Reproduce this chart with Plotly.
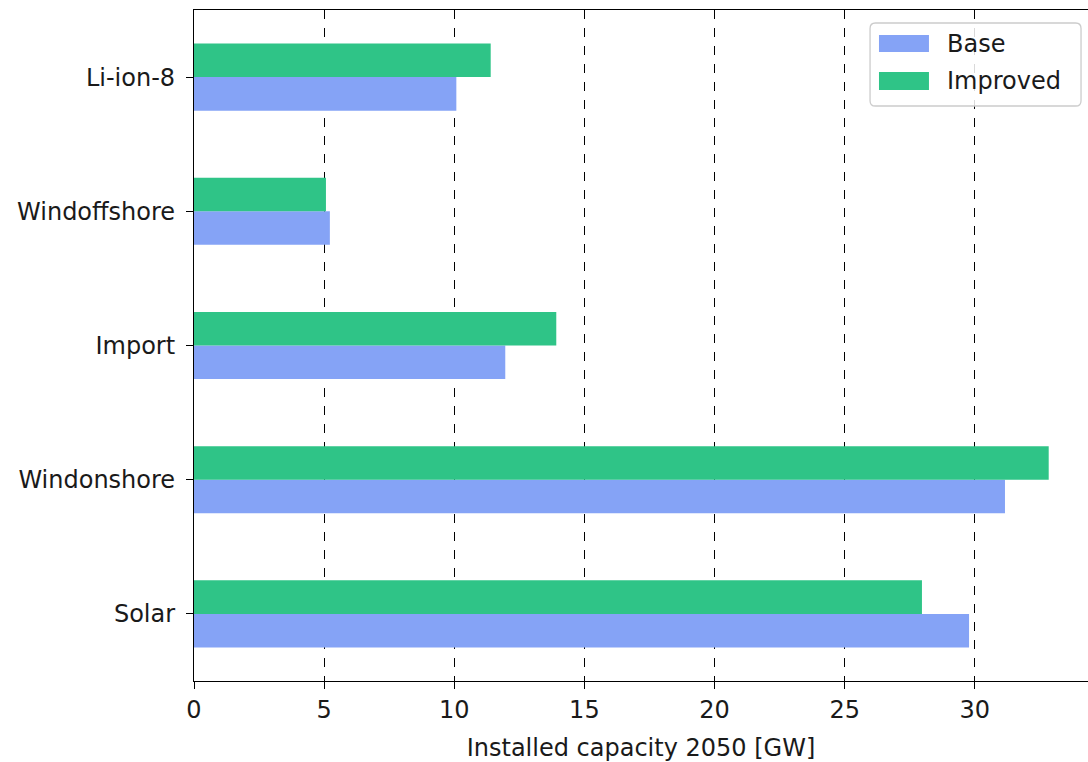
import plotly.graph_objects as go

# Installed capacity in 2050 per technology [GW]
technologies = ["Solar", "Windonshore", "Import", "Windoffshore", "Li-ion-8"]
base_gw = [29.78, 31.16, 11.96, 5.22, 10.08]
improved_gw = [27.97, 32.84, 13.92, 5.07, 11.40]

x_ticks = [0, 5, 10, 15, 20, 25, 30]

BASE_COLOR = "#85A3F6"
IMPROVED_COLOR = "#2FC487"
FONT = "DejaVu Sans"
FONT_SIZE = 24
TEXT_COLOR = "#1a1a1a"

fig = go.Figure()

fig.add_trace(go.Bar(
    y=technologies, x=base_gw, orientation="h", name="Base",
    marker=dict(color=BASE_COLOR, line=dict(width=0)),
    width=0.25, offset=-0.25, showlegend=False,
))
fig.add_trace(go.Bar(
    y=technologies, x=improved_gw, orientation="h", name="Improved",
    marker=dict(color=IMPROVED_COLOR, line=dict(width=0)),
    width=0.25, offset=0.0, showlegend=False,
))

fig.update_layout(
    width=1088, height=762,
    margin=dict(l=194, r=0, t=10, b=81),
    paper_bgcolor="white", plot_bgcolor="white",
    barmode="overlay",
    font=dict(family=FONT, size=FONT_SIZE, color=TEXT_COLOR),
)

fig.update_xaxes(
    range=[0, 34.35],
    tickmode="array", tickvals=x_ticks, ticktext=[str(t) for t in x_ticks],
    ticks="outside", ticklen=7, tickwidth=1, tickcolor="black",
    showline=True, linecolor="black", linewidth=1.2, mirror=True,
    showgrid=True, gridcolor="black", gridwidth=1, griddash="dash",
    zeroline=False,
    tickfont=dict(family=FONT, size=FONT_SIZE, color=TEXT_COLOR),
    title=dict(text="Installed capacity 2050 [GW]",
               font=dict(family=FONT, size=FONT_SIZE, color=TEXT_COLOR), standoff=16),
)
fig.update_yaxes(
    type="category", categoryorder="array", categoryarray=technologies,
    range=[-0.5, 4.5],
    ticks="outside", ticklen=7, tickwidth=1, tickcolor="black",
    showline=True, linecolor="black", linewidth=1.2,
    showgrid=False, zeroline=False, ticklabelstandoff=6,
    tickfont=dict(family=FONT, size=FONT_SIZE, color=TEXT_COLOR),
)

# Legend box drawn in paper coordinates (top-right corner of the axes)
x0, x1, y0, y1 = 0.7562, 0.9922, 0.8569, 0.9806
r = 0.006
ry = r * 894 / 671
path = (f"M {x0 + r},{y0} L {x1 - r},{y0} Q {x1},{y0} {x1},{y0 + ry} "
        f"L {x1},{y1 - ry} Q {x1},{y1} {x1 - r},{y1} "
        f"L {x0 + r},{y1} Q {x0},{y1} {x0},{y1 - ry} "
        f"L {x0},{y0 + ry} Q {x0},{y0} {x0 + r},{y0} Z")
fig.add_shape(type="path", path=path, xref="paper", yref="paper",
              fillcolor="rgba(255,255,255,0.85)",
              line=dict(color="#cccccc", width=1.3), layer="above")

legend_items = [("Base", BASE_COLOR, 0.9374, 0.9627),
                ("Improved", IMPROVED_COLOR, 0.8808, 0.9076)]
for label, color, sy0, sy1 in legend_items:
    fig.add_shape(type="rect", xref="paper", yref="paper",
                  x0=0.7662, x1=0.8221, y0=sy0, y1=sy1,
                  fillcolor=color, line=dict(width=0), layer="above")
    fig.add_annotation(text=label, xref="paper", yref="paper",
                       x=0.8400, y=(sy0 + sy1) / 2, xanchor="left", yanchor="middle",
                       showarrow=False,
                       font=dict(family=FONT, size=FONT_SIZE, color=TEXT_COLOR))

fig.write_html("out.html")
